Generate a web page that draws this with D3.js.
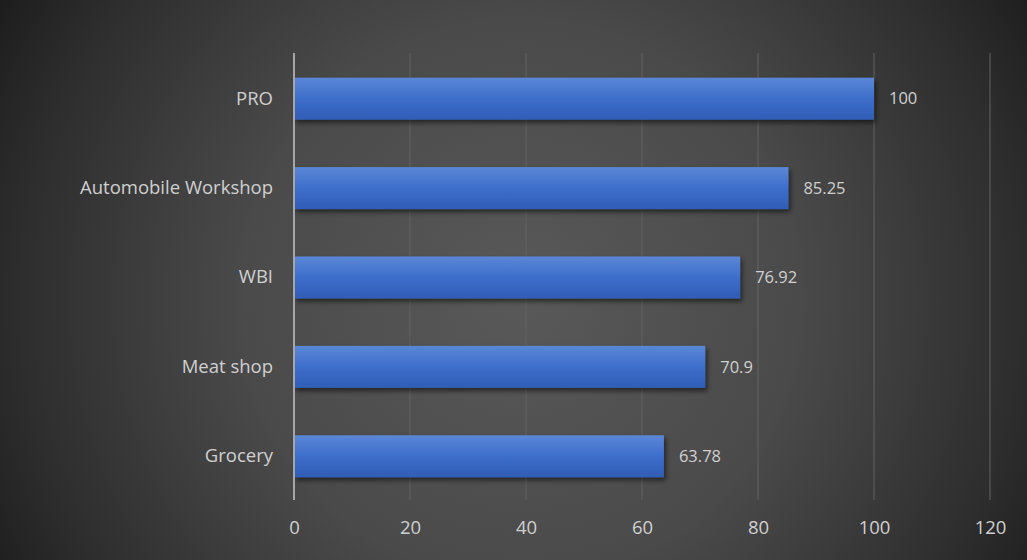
<!DOCTYPE html>
<html>
<head>
<meta charset="utf-8">
<script src="https://cdn.jsdelivr.net/npm/d3@7"></script>
<style>
  html, body { margin: 0; padding: 0; background: #2a2a2a; }
  svg { display: block; }
</style>
</head>
<body>
<svg id="chart" width="1027" height="560"></svg>
<script>
// Scores by category
const categories = ["PRO", "Automobile Workshop", "WBI", "Meat shop", "Grocery"];
const values = [100, 85.25, 76.92, 70.9, 63.78];
const tickValues = [0, 20, 40, 60, 80, 100, 120];

const width = 1027, height = 560;
const margin = { top: 53, right: 37, bottom: 60, left: 294 };

const svg = d3.select("#chart");
const defs = svg.append("defs");

// Dark radial backdrop
const bg = defs.append("radialGradient")
  .attr("id", "bgGrad")
  .attr("gradientUnits", "userSpaceOnUse")
  .attr("cx", 520).attr("cy", 300).attr("r", 620);
bg.append("stop").attr("offset", "0%").attr("stop-color", "#595959");
bg.append("stop").attr("offset", "45%").attr("stop-color", "#4a4a4a");
bg.append("stop").attr("offset", "80%").attr("stop-color", "#2e2e2e");
bg.append("stop").attr("offset", "100%").attr("stop-color", "#1a1a1a");

// Bar fill
const barGrad = defs.append("linearGradient")
  .attr("id", "barGrad").attr("x1", 0).attr("y1", 0).attr("x2", 0).attr("y2", 1);
barGrad.append("stop").attr("offset", "0%").attr("stop-color", "#5b87d6");
barGrad.append("stop").attr("offset", "50%").attr("stop-color", "#3d6ecb");
barGrad.append("stop").attr("offset", "100%").attr("stop-color", "#2f5db5");

// Soft drop shadow under bars
const shadow = defs.append("filter").attr("id", "barShadow")
  .attr("x", "-5%").attr("y", "-30%").attr("width", "115%").attr("height", "180%");
shadow.append("feDropShadow")
  .attr("dx", 2).attr("dy", 3).attr("stdDeviation", 2.5)
  .attr("flood-color", "#000").attr("flood-opacity", 0.55);

svg.append("rect").attr("width", width).attr("height", height).attr("fill", "url(#bgGrad)");

const x = d3.scaleLinear().domain([0, 120]).range([margin.left, 990]);
const y = d3.scaleBand().domain(categories)
  .range([margin.top + 1, height - margin.bottom + 1]).paddingInner(0.53).paddingOuter(0.265);

const font = "'Open Sans', 'Noto Sans', sans-serif";
const textColor = "#d0d0d0";

// Vertical gridlines
svg.append("g")
  .selectAll("line")
  .data(tickValues.slice(1))
  .join("line")
  .attr("x1", d => x(d)).attr("x2", d => x(d))
  .attr("y1", margin.top).attr("y2", height - margin.bottom)
  .attr("stroke", "#626262").attr("stroke-width", 1);

// Bottom axis labels
const xAxis = d3.axisBottom(x).tickValues(tickValues).tickSize(0).tickPadding(21);
const gx = svg.append("g")
  .attr("transform", `translate(0,${height - margin.bottom})`)
  .call(xAxis);
gx.select(".domain").remove();
gx.selectAll("text")
  .attr("fill", textColor).attr("font-size", 18.5).attr("font-family", font);

// Bars
svg.append("g")
  .selectAll("rect")
  .data(categories)
  .join("rect")
  .attr("x", x(0))
  .attr("y", d => y(d))
  .attr("width", (d, i) => x(values[i]) - x(0))
  .attr("height", y.bandwidth())
  .attr("fill", "url(#barGrad)")
  .attr("filter", "url(#barShadow)");

// Category axis line and labels
const yAxis = d3.axisLeft(y).tickSize(0).tickPadding(21);
const gy = svg.append("g").attr("transform", `translate(${x(0)},0)`).call(yAxis);
gy.select(".domain").remove();
gy.selectAll("text")
  .attr("fill", textColor).attr("font-size", 18.5).attr("font-family", font);

svg.append("line")
  .attr("x1", x(0)).attr("x2", x(0))
  .attr("y1", margin.top).attr("y2", height - margin.bottom)
  .attr("stroke", "#a6a6a6").attr("stroke-width", 2);

// Value labels
svg.append("g")
  .selectAll("text")
  .data(categories)
  .join("text")
  .attr("x", (d, i) => x(values[i]) + 15)
  .attr("y", d => y(d) + y.bandwidth() / 2)
  .attr("dy", "0.35em")
  .attr("fill", textColor)
  .attr("font-size", 16.5)
  .attr("font-family", font)
  .text((d, i) => values[i]);
</script>
</body>
</html>
